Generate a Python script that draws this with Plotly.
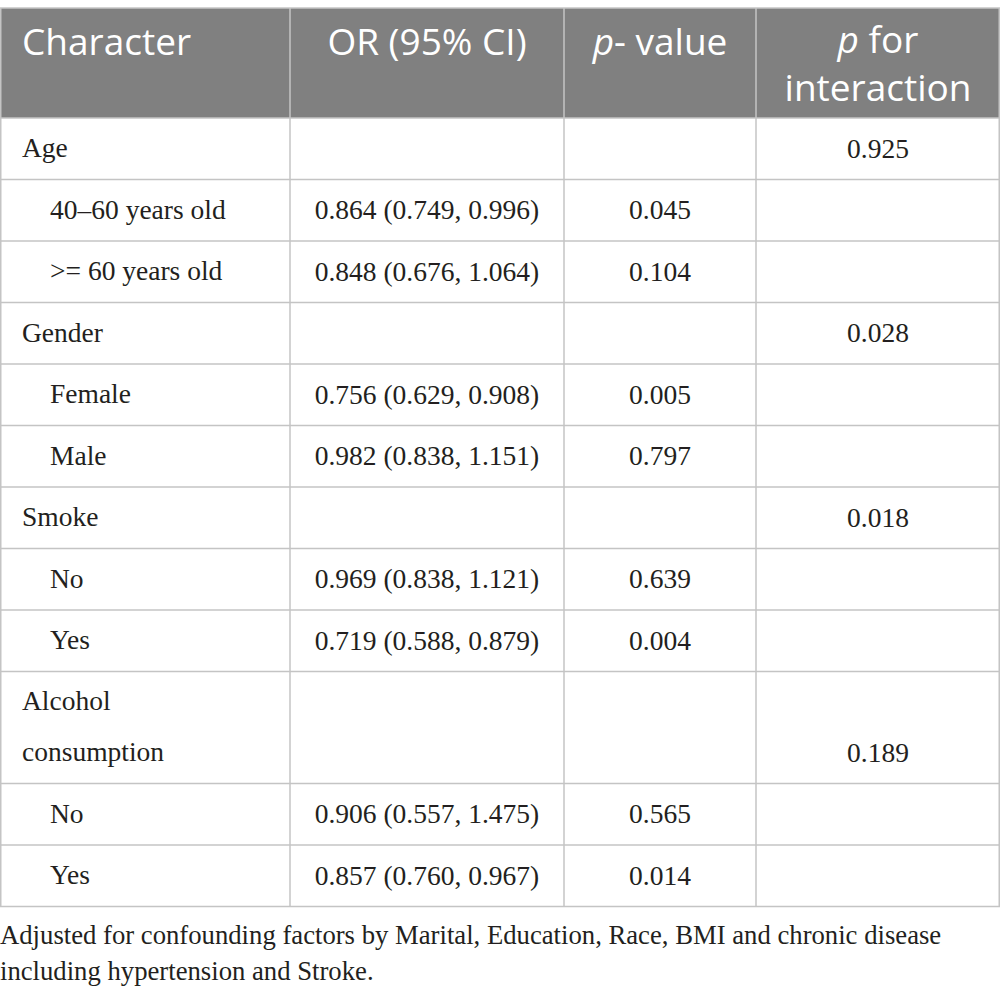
"""
Subgroup analysis table (OR, 95% CI, p-value, p for interaction) drawn with Plotly
"""

import plotly.graph_objects as go

# table content
characters = ["Age", "40–60 years old", ">= 60 years old",
              "Gender", "Female", "Male",
              "Smoke", "No", "Yes",
              "Alcohol\nconsumption", "No", "Yes"]
is_subgroup = [False, True, True, False, True, True,
               False, True, True, False, True, True]
or_ci = ["", "0.864 (0.749, 0.996)", "0.848 (0.676, 1.064)",
         "", "0.756 (0.629, 0.908)", "0.982 (0.838, 1.151)",
         "", "0.969 (0.838, 1.121)", "0.719 (0.588, 0.879)",
         "", "0.906 (0.557, 1.475)", "0.857 (0.760, 0.967)"]
p_values = ["", "0.045", "0.104", "", "0.005", "0.797",
            "", "0.639", "0.004", "", "0.565", "0.014"]
p_interaction = ["0.925", "", "", "0.028", "", "",
                 "0.018", "", "", "0.189", "", ""]
header_labels = ["Character", "OR (95% CI)", "<i>p</i>- value",
                 "<i>p</i> for<br>interaction"]
footnote = ["Adjusted for confounding factors by Marital, Education, Race, BMI and chronic disease",
            "including hypertension and Stroke."]

# geometry (pixels)
W, H = 1000, 999
col_edges = [0, 290, 564, 756, 1000]
table_top = 8
header_h = 110
row_h = 61.5
line_gap = 51          # spacing between wrapped lines in body cells
header_font = dict(family="Open Sans", size=37, color="white")
body_font = dict(family="Liberation Serif", size=27.5, color="#231f20")

# row boundaries
bounds = [table_top, table_top + header_h]
for lab in characters:
    n = lab.count("\n") + 1
    bounds.append(bounds[-1] + row_h + (n - 1) * 50.5)

fig = go.Figure()

# header fill
shapes = [dict(type="rect", x0=col_edges[0], x1=col_edges[-1], y0=bounds[0], y1=bounds[1],
               fillcolor="#808080", line=dict(width=0), layer="below")]
# grid lines
grid = dict(color="#c4c4c4", width=1.5)
for y in bounds:
    shapes.append(dict(type="line", x0=0, x1=W, y0=y, y1=y, line=grid))
for x in col_edges:
    xx = min(max(x, 0.75), W - 0.75)
    shapes.append(dict(type="line", x0=xx, x1=xx, y0=bounds[0], y1=bounds[-1], line=grid))


def add_text(xs, ys, texts, font, pos):
    fig.add_trace(go.Scatter(
        x=xs, y=ys, text=texts, mode="text", textposition=pos,
        textfont=font, hoverinfo="skip", showlegend=False
    ))


# header text (multi-line labels are centred on the mean of their lines)
hx, hy, ht = [], [], []
hx_c, hy_c, ht_c = [], [], []
for i, lab in enumerate(header_labels):
    n = lab.count("<br>") + 1
    y = table_top + 38 + (n - 1) * 21.5
    if i == 0:
        hx.append(22); hy.append(y); ht.append(lab)
    else:
        hx_c.append((col_edges[i] + col_edges[i + 1]) / 2); hy_c.append(y); ht_c.append(lab)
add_text(hx, hy, ht, header_font, "middle right")
add_text(hx_c, hy_c, ht_c, header_font, "middle center")

# body text
lx, ly, lt = [], [], []
cx, cy, ct = [], [], []
for r, lab in enumerate(characters):
    top, bot = bounds[r + 1], bounds[r + 2]
    lines = lab.split("\n")
    n = len(lines)
    first = (top + bot) / 2 - (n - 1) * line_gap / 2 + 1.5
    for k, line in enumerate(lines):
        lx.append(50 if is_subgroup[r] else 22)
        ly.append(first + k * line_gap)
        lt.append(line)
    y_last = bot - row_h / 2 + 2
    for c, col in enumerate([or_ci, p_values, p_interaction]):
        if col[r]:
            cx.append((col_edges[c + 1] + col_edges[c + 2]) / 2)
            cy.append(y_last)
            ct.append(col[r])
add_text(lx, ly, lt, body_font, "middle right")
add_text(cx, cy, ct, body_font, "middle center")

# footnote
add_text([0, 0], [bounds[-1] + 31, bounds[-1] + 67], footnote,
         dict(family="Liberation Serif", size=26.7, color="#231f20"), "middle right")

fig.update_layout(
    width=W, height=H,
    margin=dict(l=0, r=0, t=0, b=0),
    plot_bgcolor="white", paper_bgcolor="white",
    xaxis=dict(range=[0, W], visible=False, fixedrange=True),
    yaxis=dict(range=[H, 0], visible=False, fixedrange=True),
    shapes=shapes,
)

fig.write_html("out.html", config={"displayModeBar": False},
               post_script="document.body.style.margin='0';")
